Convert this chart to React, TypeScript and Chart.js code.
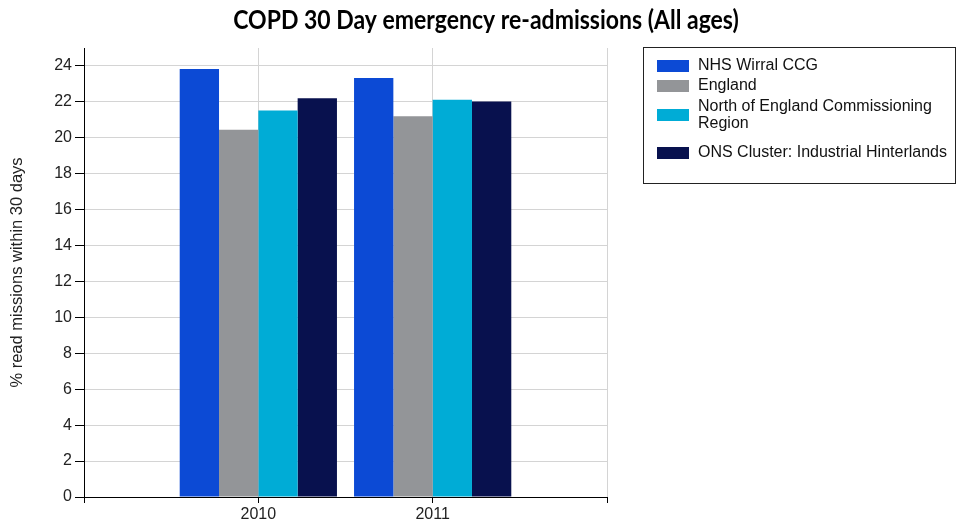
import React, { useEffect, useRef } from 'react';
import { Chart, registerables } from 'chart.js';

Chart.register(...registerables);

const years = ['2010', '2011'];
const seriesNames = [
  'NHS Wirral CCG',
  'England',
  'North of England Commissioning Region',
  'ONS Cluster: Industrial Hinterlands',
];
const wirral = [23.83, 23.33];
const england = [20.45, 21.2];
const northEngland = [21.52, 22.12];
const onsCluster = [22.2, 22.02];
const seriesColors = ['#0c4ad5', '#939598', '#00acd6', '#08114e'];
const yMax = 25;
const yStep = 2;
const yTickMax = 24;
const titleText = 'COPD 30 Day emergency re-admissions (All ages)';
const yAxisTitle = '% read missions within 30 days';

const seriesValues = [wirral, england, northEngland, onsCluster];

const SANS = '"Liberation Sans", Arial, sans-serif';

const overlayPlugin = {
  id: 'overlay',
  afterDraw(chart: any) {
    const ctx: CanvasRenderingContext2D = chart.ctx;
    ctx.save();
    // title (slightly stretched vertically like the reference)
    ctx.save();
    ctx.translate(486, 20);
    ctx.scale(1, 1.15);
    ctx.font = 'bold 23px Lato';
    ctx.fillStyle = '#000';
    ctx.textAlign = 'center';
    ctx.textBaseline = 'middle';
    ctx.fillText(titleText, 0, 0);
    ctx.restore();

    // legend box
    const boxLeft = 643;
    const boxTop = 47;
    const boxRight = 956;
    const boxBottom = 184;
    ctx.strokeStyle = '#222';
    ctx.lineWidth = 1;
    ctx.strokeRect(boxLeft + 0.5, boxTop + 0.5, boxRight - boxLeft - 1, boxBottom - boxTop - 1);

    ctx.font = '16px ' + SANS;
    ctx.textAlign = 'left';
    ctx.textBaseline = 'middle';
    const textX = 698;
    const maxW = 258;
    const lineH = 17;
    let y = 57;
    chart.data.datasets.forEach((ds: any) => {
      const words = String(ds.label).split(' ');
      const lines: string[] = [];
      let cur = '';
      words.forEach((w) => {
        const test = cur ? cur + ' ' + w : w;
        if (ctx.measureText(test).width > maxW && cur) {
          lines.push(cur);
          cur = w;
        } else {
          cur = test;
        }
      });
      if (cur) lines.push(cur);
      const blockH = lines.length * lineH;
      const center = y + blockH / 2;
      ctx.fillStyle = ds.backgroundColor;
      ctx.fillRect(657, Math.round(center - 6), 32, 12);
      ctx.fillStyle = '#111';
      lines.forEach((ln, i) => {
        ctx.fillText(ln, textX, y + lineH / 2 + i * lineH);
      });
      y += lines.length * lineH + 3.5 + (lines.length - 1) * 8.5;
    });
    ctx.restore();
  },
};

export default function App() {
  const ref = useRef<HTMLCanvasElement>(null);
  useEffect(() => {
    if (!ref.current) return;
    const labels = ['', ...years, ''];
    const chart = new Chart(ref.current, {
      type: 'bar',
      data: {
        labels,
        datasets: seriesNames.map((name, i) => ({
          label: name,
          data: [null, ...seriesValues[i], null],
          backgroundColor: seriesColors[i],
          borderWidth: 0,
          barPercentage: 1,
          categoryPercentage: 0.902,
        })),
      },
      options: {
        responsive: false,
        animation: false,
        layout: { padding: { top: 48, right: 350, left: 0, bottom: 0 } },
        plugins: {
          legend: { display: false },
          title: { display: false },
          tooltip: { enabled: false },
        },
        scales: {
          x: {
            offset: false,
            grid: {
              offset: false,
              color: '#d4d4d4',
              tickColor: '#000',
              tickLength: 6,
              drawTicks: true,
            },
            border: { color: '#000', width: 1 },
            ticks: {
              color: '#222',
              font: { family: SANS, size: 16 },
              padding: 2,
              maxRotation: 0,
              autoSkip: false,
            },
            afterFit(scale: any) {
              scale.height = 30;
            },
          },
          y: {
            min: 0,
            max: yMax,
            grid: {
              color: '#d4d4d4',
              tickColor: '#000',
              tickLength: 9,
            },
            border: { color: '#000', width: 1 },
            ticks: {
              stepSize: yStep,
              includeBounds: false,
              color: '#222',
              font: { family: SANS, size: 16 },
              padding: 3,
              autoSkip: false,
            },
            afterBuildTicks(scale: any) {
              scale.ticks = scale.ticks.filter((t: any) => t.value <= yTickMax);
            },
            afterFit(scale: any) {
              scale.width = 84;
            },
            title: {
              display: true,
              text: yAxisTitle,
              color: '#222',
              font: { family: SANS, size: 16.5 },
              padding: { top: 8, bottom: 0 },
            },
          },
        },
      },
      plugins: [overlayPlugin],
    });
    return () => chart.destroy();
  }, []);
  return (
    <div style={{ position: 'absolute', left: 0, top: 0, width: 957, height: 527, background: '#fff' }}>
      <canvas ref={ref} width={957} height={527} />
    </div>
  );
}
